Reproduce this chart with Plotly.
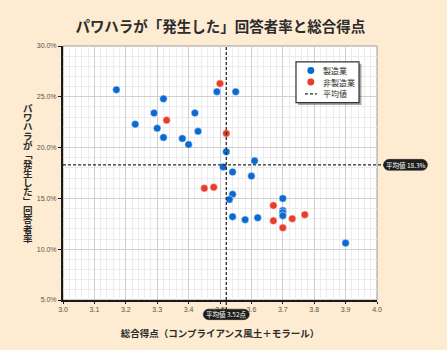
import math
import plotly.graph_objects as go

# 総合得点 (x) と パワハラ「発生した」回答者率 % (y)
mfg_score = [3.17, 3.49, 3.55, 3.32, 3.29, 3.42, 3.23, 3.30, 3.43, 3.32, 3.38, 3.40,
             3.52, 3.61, 3.51, 3.54, 3.60, 3.54, 3.53, 3.70, 3.70, 3.70, 3.70, 3.54,
             3.58, 3.62, 3.90]
mfg_rate = [25.7, 25.5, 25.5, 24.8, 23.4, 23.4, 22.3, 21.9, 21.6, 21.0, 20.9, 20.3,
            19.6, 18.7, 18.1, 17.6, 17.2, 15.4, 14.9, 15.0, 13.8, 13.6, 13.3, 13.2,
            12.9, 13.1, 10.6]

non_score = [3.50, 3.33, 3.52, 3.45, 3.48, 3.67, 3.77, 3.73, 3.67, 3.70]
non_rate = [26.3, 22.7, 21.4, 16.0, 16.1, 14.3, 13.4, 13.0, 12.8, 12.1]

mean_score = 3.52
mean_rate = 18.3

y_ticks = [5, 10, 15, 20, 25, 30]
y_tick_text = [f"{v:.1f}%" for v in y_ticks]
x_ticks = [3.0, 3.1, 3.2, 3.3, 3.4, 3.5, 3.6, 3.7, 3.8, 3.9, 4.0]

legend_labels = ["製造業", "非製造業", "平均値"]
y_title_chars = list("パワハラが﹁発生した﹂回答者率")

BG = "#fdebd2"
BLUE = "#0a6ad2"
RED = "#e83d2a"
INK = "#2b2b2b"
JP = "Noto Sans CJK JP"
DASH = "3px,2px"

# plot-area geometry (pixels)
W, H = 447, 350
L, R, T, B = 63, 70, 46, 48
PW, PH = W - L - R, H - T - B


def px(xp):
    return (xp - L) / PW


def py(yp):
    return (H - B - yp) / PH


fig = go.Figure()
fig.add_trace(go.Scatter(
    x=mfg_score, y=mfg_rate, mode="markers", name=legend_labels[0],
    marker=dict(color=BLUE, size=7.5, line=dict(color="white", width=0.5)),
))
fig.add_trace(go.Scatter(
    x=non_score, y=non_rate, mode="markers", name=legend_labels[1],
    marker=dict(color=RED, size=7.5, line=dict(color="white", width=0.5)),
))

shapes = [
    dict(type="rect", xref="paper", yref="paper", x0=0, x1=1, y0=0, y1=1,
         line=dict(color="#9a9a9a", width=1), layer="below"),
    dict(type="line", xref="x", yref="paper", x0=mean_score, x1=mean_score,
         y0=py(312), y1=1, line=dict(color=INK, width=1.3, dash=DASH)),
    dict(type="line", xref="paper", yref="y", x0=0, x1=px(385),
         y0=mean_rate, y1=mean_rate, line=dict(color=INK, width=1.3, dash=DASH)),
]


def pill(xa, ya, xr, yr, w, h, n=8):
    r = h / 2
    hw = w / 2 - r
    pts = []
    for i in range(n + 1):
        a = -math.pi / 2 + math.pi * i / n
        pts.append((hw + r * math.cos(a), r * math.sin(a)))
    for i in range(n + 1):
        a = math.pi / 2 + math.pi * i / n
        pts.append((-hw + r * math.cos(a), r * math.sin(a)))
    path = "M " + " L ".join(f"{x:.2f},{y:.2f}" for x, y in pts) + " Z"
    return dict(type="path", xref=xr, yref=yr, xsizemode="pixel", ysizemode="pixel",
                xanchor=xa, yanchor=ya, path=path, fillcolor="#1e1e1e",
                line=dict(color="#1e1e1e", width=0.5), layer="above")


x_lab_y = py(316.5)
y_lab_x = px(405.5)
shapes.append(pill(mean_score, x_lab_y, "x", "paper", 46, 10.5))
shapes.append(pill(y_lab_x, mean_rate, "paper", "y", 44, 11))

# hand-built legend box
shapes += [
    dict(type="rect", xref="paper", yref="paper", x0=px(298), x1=px(361.5),
         y0=py(105.5), y1=py(64), fillcolor="rgba(60,60,60,0.45)",
         line=dict(width=0), layer="above"),
    dict(type="rect", xref="paper", yref="paper", x0=px(296), x1=px(359),
         y0=py(103), y1=py(62), fillcolor="white",
         line=dict(color="#333333", width=1.2), layer="above"),
    dict(type="circle", xref="paper", yref="paper", x0=px(307.3), x1=px(314.3),
         y0=py(74.2), y1=py(67.2), fillcolor=BLUE, line=dict(width=0), layer="above"),
    dict(type="circle", xref="paper", yref="paper", x0=px(307.3), x1=px(314.3),
         y0=py(85.8), y1=py(78.8), fillcolor=RED, line=dict(width=0), layer="above"),
    dict(type="line", xref="paper", yref="paper", x0=px(305), x1=px(317),
         y0=py(94.3), y1=py(94.3), line=dict(color=INK, width=1.3, dash=DASH),
         layer="above"),
]

annotations = [
    dict(text="平均値 3.52点", x=mean_score, y=x_lab_y, xref="x", yref="paper",
         xanchor="center", yanchor="middle", showarrow=False, borderpad=0,
         font=dict(family=JP, size=6.5, color="white")),
    dict(text="平均値 18.3%", x=y_lab_x, y=mean_rate, xref="paper", yref="y",
         xanchor="center", yanchor="middle", showarrow=False, borderpad=0,
         font=dict(family=JP, size=6.5, color="white")),
]
for label, yy in zip(legend_labels, [70.7, 82.3, 94.3]):
    annotations.append(dict(text=label, x=px(321), y=py(yy), xref="paper", yref="paper",
                            xanchor="left", yanchor="middle", showarrow=False,
                            font=dict(family=JP, size=8, color=INK)))

# vertical axis title, one character per slot
y0_px, step = 108.3, 9.37
for i, ch in enumerate(y_title_chars):
    annotations.append(dict(text=f"<b>{ch}</b>", x=px(27.7), y=py(y0_px + i * step),
                            xref="paper", yref="paper", xanchor="center",
                            yanchor="middle", showarrow=False, borderpad=0,
                            font=dict(family=JP, size=9.5, color=INK)))

fig.update_layout(
    width=W, height=H,
    margin=dict(l=L, r=R, t=T, b=B),
    paper_bgcolor=BG, plot_bgcolor="white",
    title=dict(text="<b>パワハラが「発生した」回答者率と総合得点</b>",
               x=0.493, xanchor="center", y=0.922, yanchor="middle",
               font=dict(family=JP, size=14.5, color=INK)),
    showlegend=False,
    xaxis=dict(range=[3, 4], tickvals=x_ticks, ticktext=[f"{v:.1f}" for v in x_ticks],
               tickfont=dict(family="Liberation Sans Narrow, Liberation Sans", size=7,
                             color="#555"),
               showline=True, linecolor="#1a1a1a", linewidth=2,
               ticks="outside", ticklen=2, tickcolor="#1a1a1a",
               showgrid=True, gridcolor="#cfcfcf", gridwidth=1,
               minor=dict(dtick=0.02, showgrid=True, gridcolor="#ececec", gridwidth=1),
               zeroline=False, fixedrange=True,
               title=dict(text="<b>総合得点（コンプライアンス風土＋モラール）</b>",
                          font=dict(family=JP, size=9.5, color=INK), standoff=18)),
    yaxis=dict(range=[5, 30], tickvals=y_ticks, ticktext=y_tick_text,
               tickfont=dict(family="Liberation Sans Narrow, Liberation Sans", size=7,
                             color="#555"),
               showline=True, linecolor="#1a1a1a", linewidth=2,
               ticks="outside", ticklen=3, tickcolor="#1a1a1a",
               showgrid=True, gridcolor="#cfcfcf", gridwidth=1,
               minor=dict(dtick=1, showgrid=True, gridcolor="#ececec", gridwidth=1),
               zeroline=False, fixedrange=True),
    shapes=shapes,
    annotations=annotations,
)

fig.write_html("out.html")
